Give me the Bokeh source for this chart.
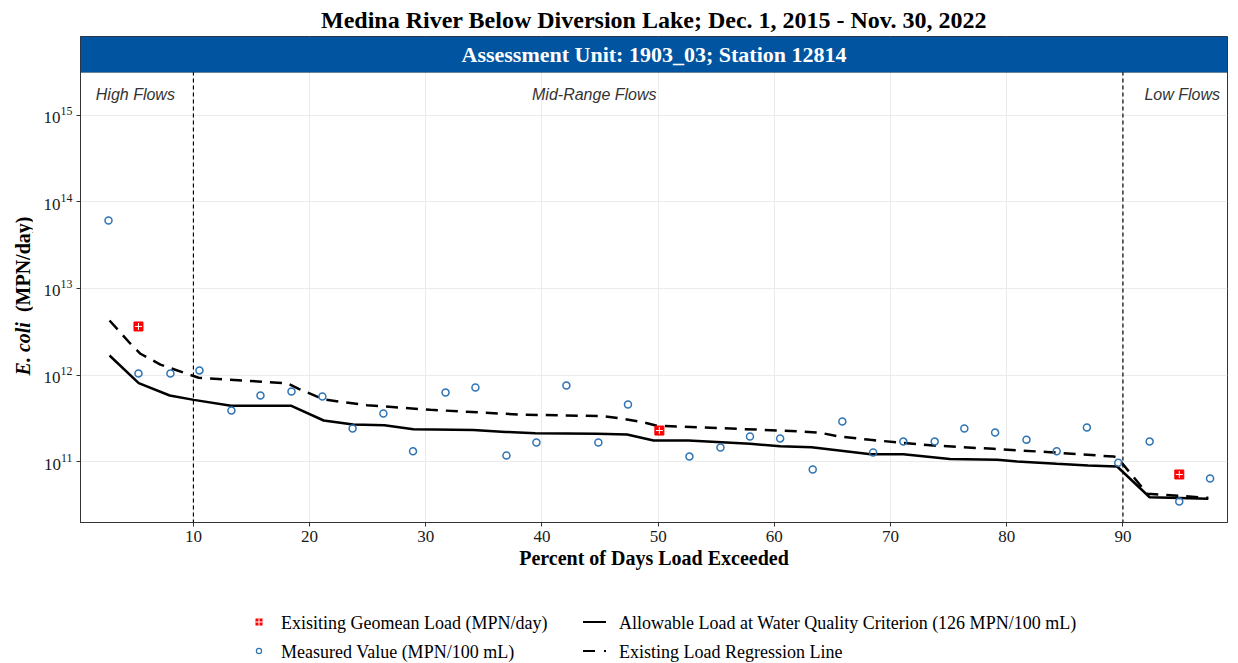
import math
from bokeh.plotting import figure
from bokeh.layouts import row, column
from bokeh.models import (Span, BoxAnnotation, Label, FixedTicker, Range1d, Div)
from bokeh.core.properties import value
from bokeh.embed import file_html
from bokeh.resources import INLINE

# ---------------- data ----------------
title_text = "Medina River Below Diversion Lake; Dec. 1, 2015 - Nov. 30, 2022"
strip_text = "Assessment Unit: 1903_03; Station 12814"

measured_pct = [2.69, 5.27, 8.02, 10.52, 13.27, 15.77, 18.44, 21.1, 23.7, 26.35,
                28.9, 31.7, 34.27, 36.94, 39.52, 42.1, 44.85, 47.4, 52.69, 55.36,
                57.9, 60.5, 63.3, 65.85, 68.5, 71.1, 73.8, 76.35, 79.0, 81.7,
                84.3, 86.9, 89.6, 92.3, 94.85, 97.5]
measured_val = [6.11e13, 1.04e12, 1.04e12, 1.13e12, 3.89e11, 5.79e11, 6.44e11, 5.64e11,
                2.41e11, 3.59e11, 1.31e11, 6.28e11, 7.16e11, 1.17e11, 1.66e11, 7.57e11,
                1.66e11, 4.56e11, 1.14e11, 1.45e11, 1.95e11, 1.85e11, 8.09e10, 2.90e11,
                1.27e11, 1.70e11, 1.70e11, 2.41e11, 2.16e11, 1.79e11, 1.31e11, 2.47e11,
                9.7e10, 1.70e11, 3.45e10, 6.35e10]

geomean_pct = [5.27, 50.1, 94.85]
geomean_val = [3.64e12, 2.28e11, 7.08e10]

allow_pct = [2.78, 5.29, 7.96, 10.03, 13.24, 18.43, 21.21, 23.74, 26.44, 28.93,
             34.1, 36.85, 39.43, 44.74, 47.32, 49.6, 52.6, 57.9, 60.5, 63.2,
             68.3, 71.1, 75.1, 79.2, 80.9, 84.3, 87.0, 89.5, 92.3, 97.35]
allow_val = [1.68e12, 8.04e11, 5.79e11, 5.16e11, 4.41e11, 4.41e11, 2.98e11, 2.68e11,
             2.63e11, 2.36e11, 2.32e11, 2.20e11, 2.12e11, 2.09e11, 2.05e11, 1.75e11,
             1.75e11, 1.60e11, 1.50e11, 1.46e11, 1.21e11, 1.21e11, 1.07e11, 1.05e11,
             1.00e11, 9.40e10, 8.99e10, 8.75e10, 3.86e10, 3.71e10]

regr_pct = [2.78, 4.58, 5.44, 7.16, 9.46, 10.46, 18.06, 19.06, 21.21, 24.95,
            30.4, 38.1, 45.3, 47.0, 48.7, 49.9, 55.35, 61.95, 63.96, 65.4,
            68.26, 71.1, 73.7, 78.85, 83.75, 89.2, 89.5, 92.1, 97.35]
regr_val = [4.27e12, 2.30e12, 1.76e12, 1.32e12, 1.03e12, 9.29e11, 8.04e11, 6.92e11,
            5.21e11, 4.48e11, 3.96e11, 3.49e11, 3.34e11, 3.12e11, 2.84e11, 2.59e11,
            2.43e11, 2.24e11, 2.15e11, 1.96e11, 1.78e11, 1.64e11, 1.53e11, 1.40e11,
            1.28e11, 1.14e11, 1.12e11, 4.24e10, 3.80e10]

x_ticks = [10, 20, 30, 40, 50, 60, 70, 80, 90]
y_ticks = [1e11, 1e12, 1e13, 1e14, 1e15]
flow_breaks = [10, 90]
flow_labels = ["High Flows", "Mid-Range Flows", "Low Flows"]
y_label_parts = ["E. coli", "(MPN/day)"]

legend_labels = ["Exisiting Geomean Load (MPN/day)",
                 "Measured Value (MPN/100 mL)",
                 "Allowable Load at Water Quality Criterion (126 MPN/100 mL)",
                 "Existing Load Regression Line"]

# ---------------- styling constants ----------------
SERIF = "Liberation Serif"
TOTAL_W, TOTAL_H = 1238, 663
LAB_W = 32
P_H = 600
BLUE = "#2F74B5"
RED = "#FF0000"

p = figure(width=TOTAL_W - LAB_W, height=P_H, y_axis_type="log",
           x_range=Range1d(0.28, 99.0), y_range=Range1d(10**10.295, 10**15.913),
           output_backend="svg", toolbar_location=None,
           min_border_left=80 - LAB_W, min_border_right=11, min_border_top=36,
           min_border_bottom=78)
FW, FH = TOTAL_W - LAB_W - (80 - LAB_W) - 11, P_H - 36 - 78

p.title.text = title_text
p.title.align = "center"
p.title.vertical_align = "top"
p.title.text_font = SERIF
p.title.text_font_size = "24px"
p.title.text_font_style = "bold"
p.title.text_color = "black"
p.title.standoff = 4

p.outline_line_color = "#333333"
p.outline_line_width = 1
p.background_fill_color = "white"

for g in (p.xgrid, p.ygrid):
    g.grid_line_color = "#EBEBEB"
    g.grid_line_width = 1
    g.minor_grid_line_color = None

p.xaxis.ticker = FixedTicker(ticks=x_ticks)
p.yaxis.ticker = FixedTicker(ticks=y_ticks)
for ax in (p.xaxis, p.yaxis):
    ax.major_label_text_font = SERIF
    ax.major_label_text_font_size = "17px"
    ax.major_label_text_color = "#1a1a1a"
    ax.major_label_standoff = 4
    ax.major_tick_in = 0
    ax.major_tick_out = 4
    ax.major_tick_line_color = "#333333"
    ax.minor_tick_line_color = None
    ax.axis_line_color = "#333333"
p.xaxis.axis_label = "Percent of Days Load Exceeded"
p.xaxis.axis_label_text_font = SERIF
p.xaxis.axis_label_text_font_style = "bold"
p.xaxis.axis_label_text_font_size = "20px"
p.xaxis.axis_label_text_color = "black"
p.xaxis.axis_label_standoff = 2

# flow regime separators
for b in flow_breaks:
    p.add_layout(Span(location=b, dimension="height", line_color="black",
                      line_width=1.2, line_dash="4 3"))

# flow labels
p.text(x=[5.0, 44.5, 95.1], y=[10**15.243] * 3, text=flow_labels,
       text_font=value("Liberation Sans"), text_font_style="italic",
       text_font_size="16px", text_color="#333333",
       text_align="center", text_baseline="middle")

# lines
p.line(allow_pct, allow_val, line_color="black", line_width=2.5)
p.line(regr_pct, regr_val, line_color="black", line_width=2.5, line_dash="12 8")

# measured points
p.scatter(measured_pct, measured_val, marker="circle", size=7,
          fill_color=None, line_color=BLUE, line_width=1.5)
# geomean (red square with white cross)
p.scatter(geomean_pct, geomean_val, marker="square", size=9,
          fill_color=RED, line_color=RED, line_width=1)
p.scatter(geomean_pct, geomean_val, marker="cross", size=7,
          line_color="white", line_width=1)

# facet strip
p.add_layout(BoxAnnotation(bottom=10**15.497, fill_color="#0054A0", fill_alpha=1,
                           line_color="#333333", line_width=1, level="annotation"))
p.add_layout(Label(x=FW / 2, y=FH - 18, x_units="screen", y_units="screen",
                   text=strip_text, text_align="center", text_baseline="middle",
                   text_color="white", text_font=SERIF, text_font_style="bold",
                   text_font_size="22px"))

# ---------- y-axis label (mixed italic / regular), as HTML text ----------
ylab_html = (
    f'<div style="position:relative;width:{LAB_W}px;height:{P_H}px;">'
    '<div style="position:absolute;left:23px;top:296px;'
    'transform:translate(-50%,-50%) rotate(-90deg);white-space:nowrap;'
    "font-family:'Liberation Serif';font-size:20px;font-weight:bold;color:black;\">"
    f'<i>{y_label_parts[0]}</i>&nbsp;&nbsp;{y_label_parts[1]}</div></div>'
)
lab = Div(text=ylab_html, width=LAB_W, height=P_H, margin=0)

# ---------- legend (below the plot) ----------
LEG_H = TOTAL_H - P_H
r1, r2 = 22, 51
span_style = ("position:absolute;transform:translateY(-50%);white-space:nowrap;"
              "line-height:1;")
leg_html = (
    f'<div style="position:relative;width:{TOTAL_W}px;height:{LEG_H}px;'
    "font-family:'Liberation Serif';font-size:18px;color:black;\">"
    f'<svg style="position:absolute;left:0;top:0" width="{TOTAL_W}" height="{LEG_H}">'
    f'<rect x="255.5" y="{r1 - 3.5}" width="7" height="7" fill="{RED}"/>'
    f'<line x1="259" y1="{r1 - 3.5}" x2="259" y2="{r1 + 3.5}" stroke="white" stroke-width="1"/>'
    f'<line x1="255.5" y1="{r1}" x2="262.5" y2="{r1}" stroke="white" stroke-width="1"/>'
    f'<circle cx="259" cy="{r2}" r="2.6" fill="none" stroke="{BLUE}" stroke-width="1.2"/>'
    f'<line x1="583" y1="{r1}" x2="606" y2="{r1}" stroke="black" stroke-width="2"/>'
    f'<line x1="583" y1="{r2}" x2="606" y2="{r2}" stroke="black" stroke-width="2" '
    'stroke-dasharray="12 9"/>'
    '</svg>'
    f'<span style="{span_style}left:281px;top:{r1 + 1}px;">{legend_labels[0]}</span>'
    f'<span style="{span_style}left:281px;top:{r2 + 1}px;">{legend_labels[1]}</span>'
    f'<span style="{span_style}left:619px;top:{r1 + 1}px;">{legend_labels[2]}</span>'
    f'<span style="{span_style}left:619px;top:{r2 + 1}px;">{legend_labels[3]}</span>'
    '</div>'
)
leg = Div(text=leg_html, width=TOTAL_W, height=LEG_H, margin=0)

layout = column(row(lab, p, spacing=0), leg, spacing=0)
open("out.html", "w").write(file_html(layout, INLINE))
